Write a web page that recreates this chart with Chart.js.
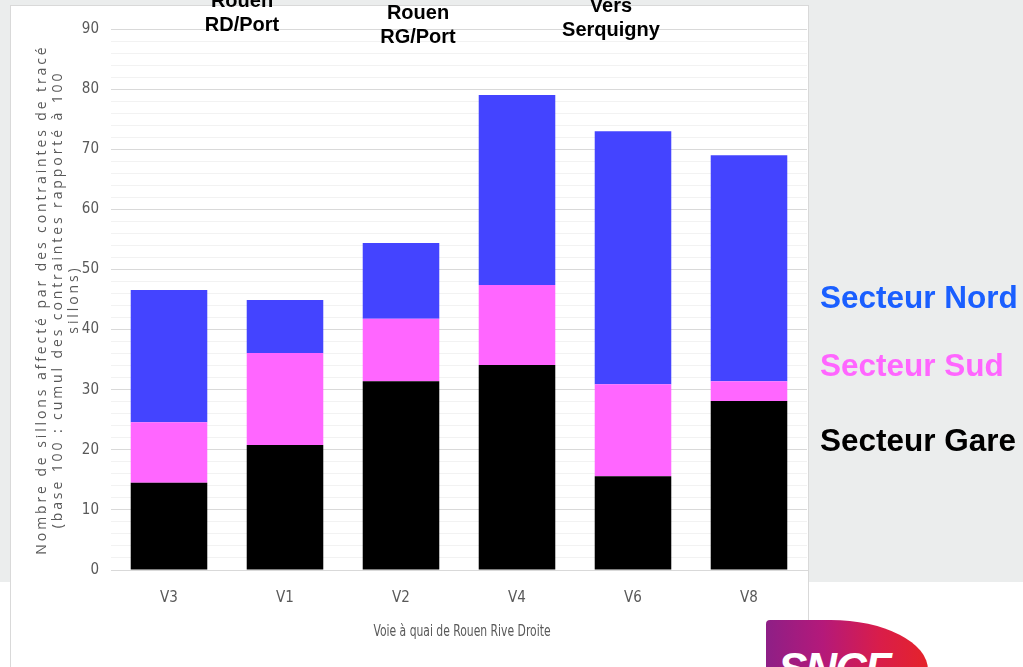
<!DOCTYPE html>
<html>
<head>
<meta charset="utf-8">
<script src="https://cdn.jsdelivr.net/npm/chart.js@4/dist/chart.umd.min.js"></script>
<style>
  body { margin: 0; width: 1023px; height: 667px; position: relative; overflow: hidden; background: #fff; font-family: "Liberation Sans", Arial, sans-serif; }
  #panel { position: absolute; left: 0; top: 0; width: 1023px; height: 582px; background: #ebeded; }
  #box { position: absolute; left: 10px; top: 5px; width: 797px; height: 680px; background: #fff; border: 1px solid #d9d9d9; }
  #wrap { position: absolute; left: 0; top: 0; width: 1023px; height: 667px; }
  .note { position: absolute; font-weight: bold; font-size: 20px; line-height: 24px; text-align: center; color: #000; transform: translateX(-50%); white-space: nowrap; }
  .leg { position: absolute; left: 820px; font-weight: bold; font-size: 31.5px; white-space: nowrap; transform: translateY(-50%); }
  #logo { position: absolute; left: 766px; top: 620px; width: 162px; height: 70px; overflow: hidden;
          background: linear-gradient(90deg, #8e1f86 0%, #b4197a 35%, #d91d4a 70%, #e5232a 100%);
          border-top-right-radius: 60% 50px; border-top-left-radius: 4px; }
  #logo span { position: absolute; left: 12px; top: 24px; color: #fff; font: italic 900 44px "Liberation Sans", Arial, sans-serif; letter-spacing: -2px; }
</style>
</head>
<body>
<div id="panel"></div>
<div id="box"></div>
<div id="wrap"><canvas id="chart" width="1023" height="667"></canvas></div>

<div class="note" style="left:242px; top:-12px;">Rouen<br>RD/Port</div>
<div class="note" style="left:418px; top:0px;">Rouen<br>RG/Port</div>
<div class="note" style="left:611px; top:-7px;">Vers<br>Serquigny</div>

<div class="leg" style="top:297px; color:#1a5fff;">Secteur Nord</div>
<div class="leg" style="top:365px; color:#ff66ff;">Secteur Sud</div>
<div class="leg" style="top:440px; color:#000;">Secteur Gare</div>

<div id="logo"><span>SNCF</span></div>

<script>
const categories = ['V3', 'V1', 'V2', 'V4', 'V6', 'V8'];
const gareValues = [14.5, 20.8, 31.4, 34.1, 15.6, 28.1];
const sudValues = [10.1, 15.3, 10.4, 13.3, 15.3, 3.3];
const nordValues = [22.0, 8.8, 12.6, 31.6, 42.1, 37.6];
const yTitleLines = [
  'Nombre de sillons affecté par des contraintes de tracé',
  '(base 100 : cumul des contraintes rapporté à 100',
  'sillons)'
];
const xTitle = 'Voie à quai de Rouen Rive Droite';

const narrow = '"DejaVu Sans Condensed", "Liberation Sans Narrow", sans-serif';
const tickFont = { family: narrow, size: 15 };

// axis titles drawn by hand: the y one is letter-spaced, the x one condensed
const titlesPlugin = {
  id: 'axisTitles',
  afterDraw(chart) {
    const ctx = chart.ctx;
    const area = chart.chartArea;
    const cy = area.top + (area.bottom - area.top) / 2;
    ctx.save();
    ctx.fillStyle = '#595959';
    ctx.font = '14px "Open Sans", sans-serif';
    ctx.letterSpacing = '2.9px';
    ctx.textAlign = 'center';
    ctx.textBaseline = 'middle';
    const xs = [42, 58, 74];
    yTitleLines.forEach((line, i) => {
      ctx.save();
      ctx.translate(xs[i], cy);
      ctx.rotate(-Math.PI / 2);
      ctx.fillText(line, 0, 0);
      ctx.restore();
    });
    ctx.letterSpacing = '0px';
    ctx.font = '16px ' + narrow;
    ctx.translate((area.left + area.right) / 2 + 3, 632);
    ctx.scale(0.75, 1);
    ctx.fillText(xTitle, 0, 0);
    ctx.restore();
  }
};

const ctx = document.getElementById('chart').getContext('2d');
const chart = new Chart(ctx, {
  type: 'bar',
  data: {
    labels: categories,
    datasets: [
      { label: 'Secteur Gare', data: gareValues, backgroundColor: '#000000' },
      { label: 'Secteur Sud', data: sudValues, backgroundColor: '#ff66ff' },
      { label: 'Secteur Nord', data: nordValues, backgroundColor: '#4444ff' }
    ]
  },
  options: {
    responsive: false,
    animation: false,
    layout: { padding: { left: 0, right: 216, top: 29, bottom: 17 } },
    datasets: { bar: { categoryPercentage: 1, barPercentage: 0.66 } },
    plugins: { legend: { display: false }, tooltip: { enabled: false } },
    scales: {
      x: {
        stacked: true,
        grid: { display: false, drawTicks: false },
        border: { display: true, color: '#d9d9d9' },
        ticks: { color: '#595959', font: tickFont, padding: 19 },
        afterFit(scale) { scale.height = 80; }
      },
      y: {
        stacked: true,
        min: 0,
        max: 90,
        grid: {
          drawTicks: false,
          color: c => (c.tick.value % 10 === 0 ? '#d9d9d9' : '#f2f2f2'),
          lineWidth: 1
        },
        border: { display: false },
        ticks: {
          stepSize: 2,
          autoSkip: false,
          padding: 12,
          color: '#595959',
          font: { family: narrow, size: 15 },
          callback: v => (v % 10 === 0 ? v : '')
        },
        afterFit(scale) { scale.width = 111; }
      }
    }
  },
  plugins: [titlesPlugin]
});
</script>
</body>
</html>
